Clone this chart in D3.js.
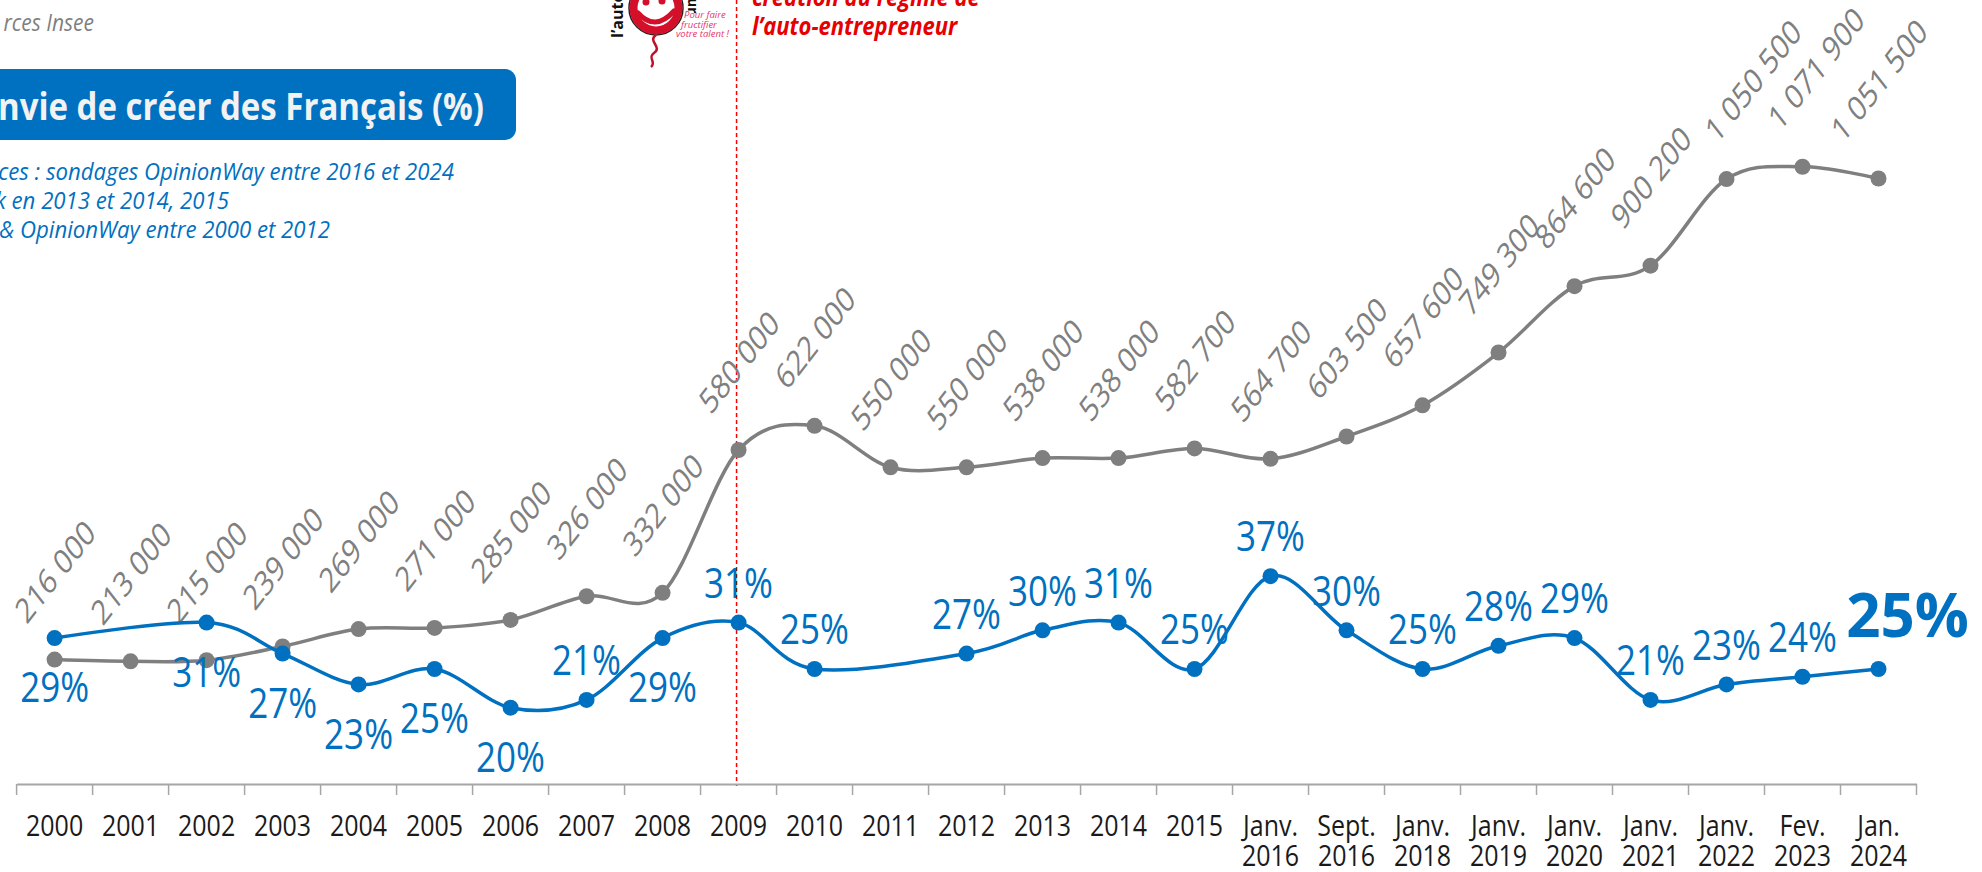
<!DOCTYPE html>
<html>
<head>
<meta charset="utf-8">
<script src="https://cdn.jsdelivr.net/npm/d3@7"></script>
<style>
  html, body { margin: 0; padding: 0; background: #fff; overflow: hidden; }
  svg { display: block; font-family: "Open Sans", sans-serif; }
</style>
</head>
<body>
<div id="chart"></div>
<script>
// Categories (x axis)
const categories = [
  "2000", "2001", "2002", "2003", "2004", "2005", "2006", "2007", "2008",
  "2009", "2010", "2011", "2012", "2013", "2014", "2015",
  "Janv. 2016", "Sept. 2016", "Janv. 2018", "Janv. 2019", "Janv. 2020",
  "Janv. 2021", "Janv. 2022", "Fev. 2023", "Jan. 2024"
];

// Créations d'entreprises (grey line), as plotted
const creations = [
  216000, 213000, 215000, 239000, 269000, 271000, 285000, 326000, 332000,
  580000, 622000, 550000, 550000, 566000, 566000, 582700,
  564700, 603500, 657600, 749300, 864600, 900200, 1050500, 1071900, 1051500
];

// Data labels of the grey line, as written on the chart
const creationLabels = [
  "216 000", "213 000", "215 000", "239 000", "269 000", "271 000", "285 000",
  "326 000", "332 000", "580 000", "622 000", "550 000", "550 000", "538 000",
  "538 000", "582 700", "564 700", "603 500", "657 600", "749 300", "864 600",
  "900 200", "1 050 500", "1 071 900", "1 051 500"
];

// Envie de créer (%) (blue line), null = no survey
const envie = [
  29, null, 31, 27, 23, 25, 20, 21, 29, 31, 25, null, 27, 30, 31, 25,
  37, 30, 25, 28, 29, 21, 23, 24, 25
];

// Where each % label sits relative to its point
const envieLabelPos = [
  "below", null, "below", "below", "below", "below", "below", "above", "below",
  "above", "above", null, "above", "above", "above", "above",
  "above", "above", "above", "above", "above", "above", "above", "above", "last"
];

document.addEventListener("DOMContentLoaded", function () {
  const width = 1982,
    height = 872;
  const stretch = 1.2; // text in the original is drawn taller than wide
  const blue = "#0070C0",
    grey = "#7f7f7f",
    red = "#e60000";

  const svg = d3
    .select("#chart")
    .append("svg")
    .attr("width", width)
    .attr("height", height);

  // Scales
  const x = d3.scaleBand().domain(categories).range([16.6, 1916.5]);
  const cx = (c) => x(c) + x.bandwidth() / 2;
  const yCount = d3.scaleLinear().domain([0, 1200000]).range([784, 93]);
  const yPct = d3.scaleLinear().domain([10, 40]).range([785, 553]);

  // Header texts (the slide is cut at the left edge)
  svg
    .append("text")
    .attr("transform", `translate(94,31) scale(1,1.1)`)
    .attr("text-anchor", "end")
    .attr("font-style", "italic")
    .attr("font-size", 21)
    .attr("fill", grey)
    .text("rces Insee");

  svg
    .append("rect")
    .attr("x", -30)
    .attr("y", 69)
    .attr("width", 546)
    .attr("height", 71)
    .attr("rx", 11)
    .attr("fill", blue);

  svg
    .append("text")
    .attr("transform", `translate(484,120) scale(1,1.15)`)
    .attr("text-anchor", "end")
    .attr("font-weight", "bold")
    .attr("font-size", 33)
    .attr("fill", "#f2f2f2")
    .text("nvie de créer des Français (%)");

  const sources = [
    { t: "rces : sondages OpinionWay entre 2016 et 2024", x: 454, y: 180 },
    { t: "k en 2013 et 2014, 2015", x: 229, y: 209 },
    { t: "& OpinionWay entre 2000 et 2012", x: 330, y: 238 }
  ];
  svg
    .append("g")
    .selectAll("text")
    .data(sources)
    .join("text")
    .attr("transform", (d) => `translate(${d.x},${d.y}) scale(1,1.1)`)
    .attr("text-anchor", "end")
    .attr("font-style", "italic")
    .attr("font-size", 22.2)
    .attr("fill", blue)
    .text((d) => d.t);

  // Logo (simplified balloon)
  const logo = svg.append("g").attr("class", "logo");
  logo
    .append("circle")
    .attr("cx", 656)
    .attr("cy", 8)
    .attr("r", 27)
    .attr("fill", "none")
    .attr("stroke", "#222")
    .attr("stroke-width", 1.5);
  logo
    .append("circle")
    .attr("cx", 656)
    .attr("cy", 8)
    .attr("r", 22.5)
    .attr("fill", "#fff")
    .attr("stroke", "#d40f2a")
    .attr("stroke-width", 8);
  logo
    .append("circle").attr("cx", 646).attr("cy", 2).attr("r", 3.5).attr("fill", "#d40f2a");
  logo
    .append("circle").attr("cx", 662).attr("cy", 1).attr("r", 3.5).attr("fill", "#d40f2a");
  logo
    .append("path")
    .attr("d", "M638,13 Q655,32 674,11")
    .attr("fill", "none")
    .attr("stroke", "#d40f2a")
    .attr("stroke-width", 5)
    .attr("stroke-linecap", "round");
  logo
    .append("path")
    .attr("d", "M656,35 C647,41 663,47 654,53 C647,58 657,62 651,67")
    .attr("fill", "none")
    .attr("stroke", "#c0102a")
    .attr("stroke-width", 2.5);
  logo
    .append("text")
    .attr("transform", "translate(623,38) rotate(-90)")
    .attr("font-weight", "bold")
    .attr("font-size", 16)
    .attr("fill", "#111")
    .text("l’auto");
  logo
    .append("text")
    .attr("transform", "translate(688,-2) rotate(90)")
    .attr("font-weight", "bold")
    .attr("font-size", 14)
    .attr("fill", "#111")
    .text("ur");
  logo
    .append("g")
    .selectAll("text")
    .data(["Pour faire", "fructifier", "votre talent !"])
    .join("text")
    .attr("x", (d, i) => [684, 681, 676][i])
    .attr("y", (d, i) => 18 + i * 9.5)
    .attr("font-style", "italic")
    .attr("font-size", 9.5)
    .attr("fill", "#e8336d")
    .text((d) => d);

  // Red annotation
  const xMark = cx("2009") - 2;
  svg
    .append("line")
    .attr("x1", xMark)
    .attr("x2", xMark)
    .attr("y1", 0)
    .attr("y2", 786)
    .attr("stroke", "#ff0000")
    .attr("stroke-width", 1.5)
    .attr("stroke-dasharray", "4,3");

  svg
    .append("g")
    .selectAll("text")
    .data(["création du régime de", "l’auto-entrepreneur"])
    .join("text")
    .attr("transform", (d, i) => `translate(752,${6 + i * 29}) scale(1,1.1)`)
    .attr("font-weight", "bold")
    .attr("font-style", "italic")
    .attr("font-size", 22)
    .attr("fill", red)
    .text((d) => d);

  // X axis: baseline, ticks between categories, two-line labels
  const axis = svg.append("g").attr("class", "x-axis");
  axis
    .append("g")
    .attr("transform", "translate(0,784)")
    .call(d3.axisBottom(x).tickSize(0).tickSizeOuter(0).tickFormat(""))
    .call((g) => g.select(".domain").attr("stroke", "#a6a6a6").attr("stroke-width", 2));

  axis
    .selectAll("line.tick")
    .data(d3.range(categories.length + 1))
    .join("line")
    .attr("class", "tick")
    .attr("x1", (i) => x.range()[0] + i * x.step())
    .attr("x2", (i) => x.range()[0] + i * x.step())
    .attr("y1", 784)
    .attr("y2", 795)
    .attr("stroke", "#a6a6a6")
    .attr("stroke-width", 1.5);

  const labels = axis
    .selectAll("g.lab")
    .data(categories)
    .join("g")
    .attr("class", "lab")
    .attr("transform", (d) => `translate(${cx(d)},0)`);
  labels
    .selectAll("text")
    .data((d) => d.split(" "))
    .join("text")
    .attr("transform", (d, i) => `translate(0,${836 + i * 30}) scale(1,${stretch})`)
    .attr("text-anchor", "middle")
    .attr("font-size", 25)
    .attr("fill", "#1a1a1a")
    .text((d) => d);

  const smooth = d3.curveCatmullRom.alpha(0);

  // Grey series
  const greyPts = categories.map((c, i) => ({
    cat: c,
    x: cx(c),
    y: yCount(creations[i]),
    label: creationLabels[i]
  }));

  svg
    .append("path")
    .datum(greyPts)
    .attr("fill", "none")
    .attr("stroke", grey)
    .attr("stroke-width", 3.5)
    .attr("d", d3.line().x((d) => d.x).y((d) => d.y).curve(smooth));

  svg
    .append("g")
    .selectAll("circle")
    .data(greyPts)
    .join("circle")
    .attr("cx", (d) => d.x)
    .attr("cy", (d) => d.y)
    .attr("r", 8)
    .attr("fill", grey);

  // rotated labels, centred above their point; two were pushed right in the original
  const greyFont = 27,
    greyStretch = 1.28;
  const nudge = { "Janv. 2022": 26, "Fev. 2023": 13 };
  svg
    .append("g")
    .selectAll("text")
    .data(greyPts)
    .join("text")
    .attr("text-anchor", "middle")
    .attr("dominant-baseline", "central")
    .attr("font-size", greyFont)
    .attr("fill", grey)
    .text((d) => d.label)
    .each(function (d) {
      const L = this.getComputedTextLength();
      const half = (greyStretch * (L + greyFont * 0.72) * Math.SQRT1_2) / 2;
      const dx = nudge[d.cat] || 0;
      d3.select(this).attr(
        "transform",
        `translate(${d.x + dx},${d.y - 35 - half}) scale(1,${greyStretch}) rotate(-45)`
      );
    });

  // Blue series (gaps are bridged, as in the original)
  const bluePts = categories
    .map((c, i) => ({ x: cx(c), v: envie[i], pos: envieLabelPos[i] }))
    .filter((d) => d.v !== null)
    .map((d) => ({ ...d, y: yPct(d.v) }));

  svg
    .append("path")
    .datum(bluePts)
    .attr("fill", "none")
    .attr("stroke", blue)
    .attr("stroke-width", 3.5)
    .attr("d", d3.line().x((d) => d.x).y((d) => d.y).curve(smooth));

  svg
    .append("g")
    .selectAll("circle")
    .data(bluePts)
    .join("circle")
    .attr("cx", (d) => d.x)
    .attr("cy", (d) => d.y)
    .attr("r", 8)
    .attr("fill", blue);

  svg
    .append("g")
    .selectAll("text")
    .data(bluePts)
    .join("text")
    .attr("text-anchor", "middle")
    .attr("dominant-baseline", "central")
    .attr("fill", blue)
    .attr("font-size", (d) => (d.pos === "last" ? 60 : 35))
    .attr("font-weight", (d) => (d.pos === "last" ? "bold" : "normal"))
    .attr("transform", (d) => {
      if (d.pos === "last") return `translate(${d.x + 29},${d.y - 55})`;
      const dy = d.pos === "below" ? 48 : -41;
      return `translate(${d.x},${d.y + dy}) scale(1,${stretch})`;
    })
    .text((d) => d.v + "%");
});
</script>
</body>
</html>
